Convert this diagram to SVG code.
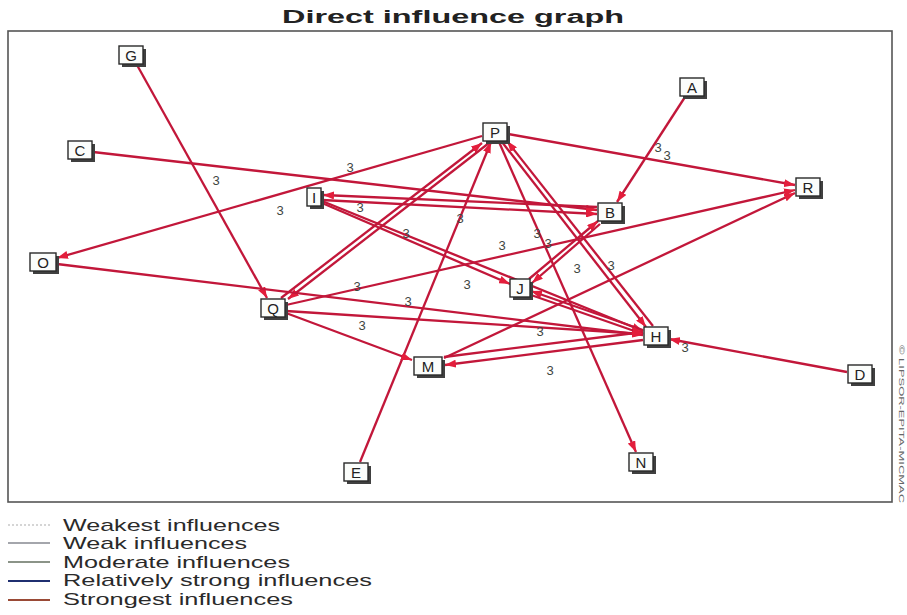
<svg xmlns="http://www.w3.org/2000/svg" width="907" height="615" viewBox="0 0 907 615">
<style>
.t{font-family:"Liberation Sans",Arial,sans-serif;fill:#222}
.title{font-size:18px;font-weight:bold;text-anchor:middle}
.lg{font-size:17px;fill:#2a2a2a}
.lbl{font-size:13px;fill:#3f463f;text-anchor:middle;font-family:"Liberation Sans",Arial,sans-serif}
.box{fill:#fbfdfb;stroke:#2a2a2a;stroke-width:1.4}
.sh{fill:#404040}
.nt{font-family:"Liberation Sans",Arial,sans-serif;font-size:15px;fill:#222;text-anchor:middle}
.e{stroke:#c2173a;stroke-width:2.3;fill:none;marker-end:url(#ah)}
</style>
<defs>
<marker id="ah" markerUnits="userSpaceOnUse" markerWidth="12" markerHeight="8" refX="11" refY="4" orient="auto">
<path d="M0,0 L11,4 L0,8 z" fill="#e31e3c"/>
</marker>
</defs>
<rect width="907" height="615" fill="#ffffff"/>
<text class="t title" x="453" y="23" textLength="342" lengthAdjust="spacingAndGlyphs">Direct influence graph</text>
<rect x="8" y="31" width="884" height="471" fill="none" stroke="#555" stroke-width="1.6"/>
<text x="899" y="345" transform="rotate(90 899 345)" font-family="Liberation Sans,Arial,sans-serif" font-size="8" fill="#666" textLength="158" lengthAdjust="spacingAndGlyphs">© LIPSOR-EPITA-MICMAC</text>

<g id="connectors">
<line class="e" x1="137" y1="65" x2="267" y2="298"/>
<line class="e" x1="93" y1="152" x2="597" y2="210"/>
<line class="e" x1="322" y1="200" x2="597" y2="214"/>
<line class="e" x1="597" y1="207" x2="323" y2="195"/>
<line class="e" x1="482" y1="136" x2="57" y2="258"/>
<line class="e" x1="508" y1="134" x2="795" y2="185"/>
<line class="e" x1="685" y1="97" x2="617" y2="202"/>
<line class="e" x1="281" y1="298" x2="482" y2="143"/>
<line class="e" x1="489" y1="143" x2="288" y2="299"/>
<line class="e" x1="360" y1="462" x2="491" y2="142"/>
<line class="e" x1="499" y1="142" x2="636" y2="452"/>
<line class="e" x1="502" y1="142" x2="646" y2="327"/>
<line class="e" x1="653" y1="326" x2="507" y2="141"/>
<line class="e" x1="322" y1="201" x2="643" y2="331"/>
<line class="e" x1="322" y1="203" x2="510" y2="284"/>
<line class="e" x1="286" y1="305" x2="795" y2="190"/>
<line class="e" x1="286" y1="313" x2="412" y2="360"/>
<line class="e" x1="286" y1="311" x2="643" y2="334"/>
<line class="e" x1="57" y1="264" x2="643" y2="335"/>
<line class="e" x1="444" y1="358" x2="795" y2="193"/>
<line class="e" x1="643" y1="340" x2="445" y2="365"/>
<line class="e" x1="444" y1="357" x2="643" y2="332"/>
<line class="e" x1="643" y1="330" x2="531" y2="291"/>
<line class="e" x1="531" y1="295" x2="643" y2="334"/>
<line class="e" x1="529" y1="279" x2="598" y2="221"/>
<line class="e" x1="600" y1="224" x2="532" y2="283"/>
<line class="e" x1="847" y1="372" x2="669" y2="339"/>
</g>

<g id="labels">
<text class="lbl" x="216" y="185">3</text>
<text class="lbl" x="350" y="172">3</text>
<text class="lbl" x="280" y="215">3</text>
<text class="lbl" x="360" y="212">3</text>
<text class="lbl" x="406" y="238">3</text>
<text class="lbl" x="460" y="223">3</text>
<text class="lbl" x="502" y="250">3</text>
<text class="lbl" x="537" y="238">3</text>
<text class="lbl" x="548" y="248">3</text>
<text class="lbl" x="577" y="273">3</text>
<text class="lbl" x="611" y="270">3</text>
<text class="lbl" x="357" y="291">3</text>
<text class="lbl" x="408" y="306">3</text>
<text class="lbl" x="467" y="289">3</text>
<text class="lbl" x="362" y="330">3</text>
<text class="lbl" x="540" y="336">3</text>
<text class="lbl" x="550" y="375">3</text>
<text class="lbl" x="685" y="352">3</text>
<text class="lbl" x="658" y="152">3</text>
<text class="lbl" x="667" y="160">3</text>
</g>

<g id="node-G"><rect class="sh" x="122" y="49" width="24" height="18"/><rect class="box" x="119" y="46" width="24" height="18"/><text class="nt" x="131" y="60.5">G</text></g>
<g id="node-A"><rect class="sh" x="683" y="81" width="24" height="18"/><rect class="box" x="680" y="78" width="24" height="18"/><text class="nt" x="692" y="92.5">A</text></g>
<g id="node-P"><rect class="sh" x="486" y="126" width="24" height="18"/><rect class="box" x="483" y="123" width="24" height="18"/><text class="nt" x="495" y="137.5">P</text></g>
<g id="node-C"><rect class="sh" x="71" y="144" width="24" height="18"/><rect class="box" x="68" y="141" width="24" height="18"/><text class="nt" x="80" y="155.5">C</text></g>
<g id="node-R"><rect class="sh" x="799" y="181" width="24" height="18"/><rect class="box" x="796" y="178" width="24" height="18"/><text class="nt" x="808" y="192.5">R</text></g>
<g id="node-I"><rect class="sh" x="310" y="191" width="14" height="18"/><rect class="box" x="307" y="188" width="14" height="18"/><text class="nt" x="314" y="202.5">I</text></g>
<g id="node-B"><rect class="sh" x="601" y="206" width="24" height="18"/><rect class="box" x="598" y="203" width="24" height="18"/><text class="nt" x="610" y="217.5">B</text></g>
<g id="node-O"><rect class="sh" x="33" y="256" width="26" height="18"/><rect class="box" x="30" y="253" width="26" height="18"/><text class="nt" x="43" y="267.5">O</text></g>
<g id="node-J"><rect class="sh" x="513" y="282" width="20" height="18"/><rect class="box" x="510" y="279" width="20" height="18"/><text class="nt" x="520" y="293.5">J</text></g>
<g id="node-Q"><rect class="sh" x="264" y="302" width="24" height="18"/><rect class="box" x="261" y="299" width="24" height="18"/><text class="nt" x="273" y="313.5">Q</text></g>
<g id="node-H"><rect class="sh" x="647" y="330" width="24" height="18"/><rect class="box" x="644" y="327" width="24" height="18"/><text class="nt" x="656" y="341.5">H</text></g>
<g id="node-M"><rect class="sh" x="417" y="360" width="28" height="18"/><rect class="box" x="414" y="357" width="28" height="18"/><text class="nt" x="428" y="371.5">M</text></g>
<g id="node-D"><rect class="sh" x="851" y="368" width="24" height="18"/><rect class="box" x="848" y="365" width="24" height="18"/><text class="nt" x="860" y="379.5">D</text></g>
<g id="node-N"><rect class="sh" x="632" y="456" width="24" height="18"/><rect class="box" x="629" y="453" width="24" height="18"/><text class="nt" x="641" y="467.5">N</text></g>
<g id="node-E"><rect class="sh" x="347" y="466" width="24" height="18"/><rect class="box" x="344" y="463" width="24" height="18"/><text class="nt" x="356" y="477.5">E</text></g>

<g id="legend">
<line x1="8" y1="525" x2="50" y2="525" stroke="#c8c8c8" stroke-width="1.5" stroke-dasharray="2,2"/>
<line x1="8" y1="543" x2="50" y2="543" stroke="#4a4f5a" stroke-width="1.2"/>
<line x1="8" y1="562" x2="50" y2="562" stroke="#8b9488" stroke-width="1.8"/>
<line x1="8" y1="581" x2="50" y2="581" stroke="#1f2f70" stroke-width="2"/>
<line x1="8" y1="600" x2="50" y2="600" stroke="#9a4a36" stroke-width="2.2"/>
<text class="t lg" x="63" y="531" textLength="217" lengthAdjust="spacingAndGlyphs">Weakest influences</text>
<text class="t lg" x="63" y="549" textLength="184" lengthAdjust="spacingAndGlyphs">Weak influences</text>
<text class="t lg" x="63" y="568" textLength="227" lengthAdjust="spacingAndGlyphs">Moderate influences</text>
<text class="t lg" x="63" y="586" textLength="309" lengthAdjust="spacingAndGlyphs">Relatively strong influences</text>
<text class="t lg" x="63" y="605" textLength="230" lengthAdjust="spacingAndGlyphs">Strongest influences</text>
</g>
</svg>
